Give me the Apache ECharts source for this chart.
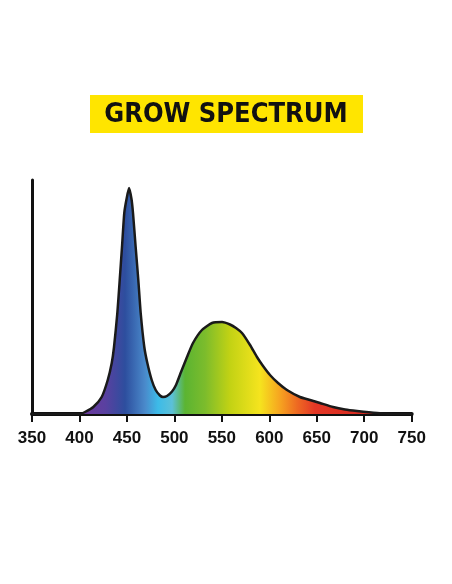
<!DOCTYPE html>
<html>
<head>
<meta charset="utf-8">
<script src="https://cdn.jsdelivr.net/npm/echarts@6/dist/echarts.min.js"></script>
<style>
html,body{margin:0;padding:0;background:#fff;}
#chart{width:452px;height:584px;}
</style>
</head>
<body>
<div id="chart"></div>
<script>
var titleText = 'GROW SPECTRUM';
var tickLabels = [350, 400, 450, 500, 550, 600, 650, 700, 750];
var wavelengths = [350, 400.6, 405.8, 414.6, 423.4, 429.8, 434, 436.4, 439.9, 442.4, 444.8, 447.2, 449.6, 452.2, 454.8, 456.4, 459.2, 462, 464.5, 468.3, 471.5, 476.1, 480.3, 484.8, 488, 492.2, 497.5, 501.7, 507, 513.3, 519.6, 529, 539.6, 550.2, 558.6, 564.9, 571.2, 579.7, 587, 593.4, 600.7, 609.2, 618.6, 632.3, 642.9, 653.4, 667.1, 679.8, 692.4, 713.5, 732.4, 750];
var intensity   = [0,   0,     2,     7,     17,    34,    51,  67,    101,   134,   167,   201,   215,   226,   215,   201,   167,   134, 101,   67,    51,    34,    24,    18.5,  17,  18,    22.5,  29,    42,  57,    71,    84,  91,    92,    89.5,  86,    81,    69,    57,  48,    39,    31,    24,    17,    14,    11,    7,     4.5,   3,     1,     0,     0];

var chart = echarts.init(document.getElementById('chart'));
var seriesData = wavelengths.map(function (w, i) { return [w, intensity[i]]; });

var spectrum = new echarts.graphic.LinearGradient(0, 0, 1, 0, [
  {offset: 0.14, color: '#6a3a9c'},
  {offset: 0.192, color: '#5a40a0'},
  {offset: 0.245, color: '#2d4e9e'},
  {offset: 0.298, color: '#4a8acb'},
  {offset: 0.332, color: '#3cbbe8'},
  {offset: 0.369, color: '#5cc0d8'},
  {offset: 0.403, color: '#5bb432'},
  {offset: 0.456, color: '#7cbc2c'},
  {offset: 0.521, color: '#c2d214'},
  {offset: 0.600, color: '#f5e41e'},
  {offset: 0.653, color: '#f6a420'},
  {offset: 0.698, color: '#ee6a22'},
  {offset: 0.745, color: '#e43826'},
  {offset: 0.864, color: '#d82a20'},
  {offset: 1, color: '#d82a20'}
]);

chart.setOption({
  animation: false,
  backgroundColor: '#ffffff',
  graphic: [
    {type: 'rect', shape: {x: 90, y: 95, width: 273, height: 38}, style: {fill: '#ffe500'}},
    {type: 'text', x: 226, y: 115, style: {text: titleText, fill: '#111', font: 'bold 27px "DejaVu Sans Condensed", "Liberation Sans Narrow", sans-serif', textAlign: 'center', textVerticalAlign: 'middle'}}
  ],
  grid: {left: 32, right: 40.3, top: 180, bottom: 170},
  xAxis: {
    type: 'value', min: 350, max: 750, interval: 50,
    axisLine: {show: true, lineStyle: {color: '#111', width: 4}},
    axisTick: {show: true, length: 8, lineStyle: {color: '#111', width: 2}},
    axisLabel: {
      margin: 16, color: '#111', fontSize: 17, fontWeight: 'bold', fontFamily: '"Liberation Sans", Arial, sans-serif',
      formatter: function (v) { return tickLabels.indexOf(v) >= 0 ? String(v) : ''; }
    },
    splitLine: {show: false}
  },
  yAxis: {
    type: 'value', min: 0, max: 234,
    axisLine: {show: true, lineStyle: {color: '#111', width: 3}},
    axisTick: {show: false}, axisLabel: {show: false}, splitLine: {show: false}
  },
  series: [{
    type: 'line', data: seriesData, smooth: 0.2, showSymbol: false,
    lineStyle: {color: '#1a1a1a', width: 2.5},
    areaStyle: {color: spectrum, opacity: 1},
    z: 1
  }]
});
</script>
</body>
</html>
